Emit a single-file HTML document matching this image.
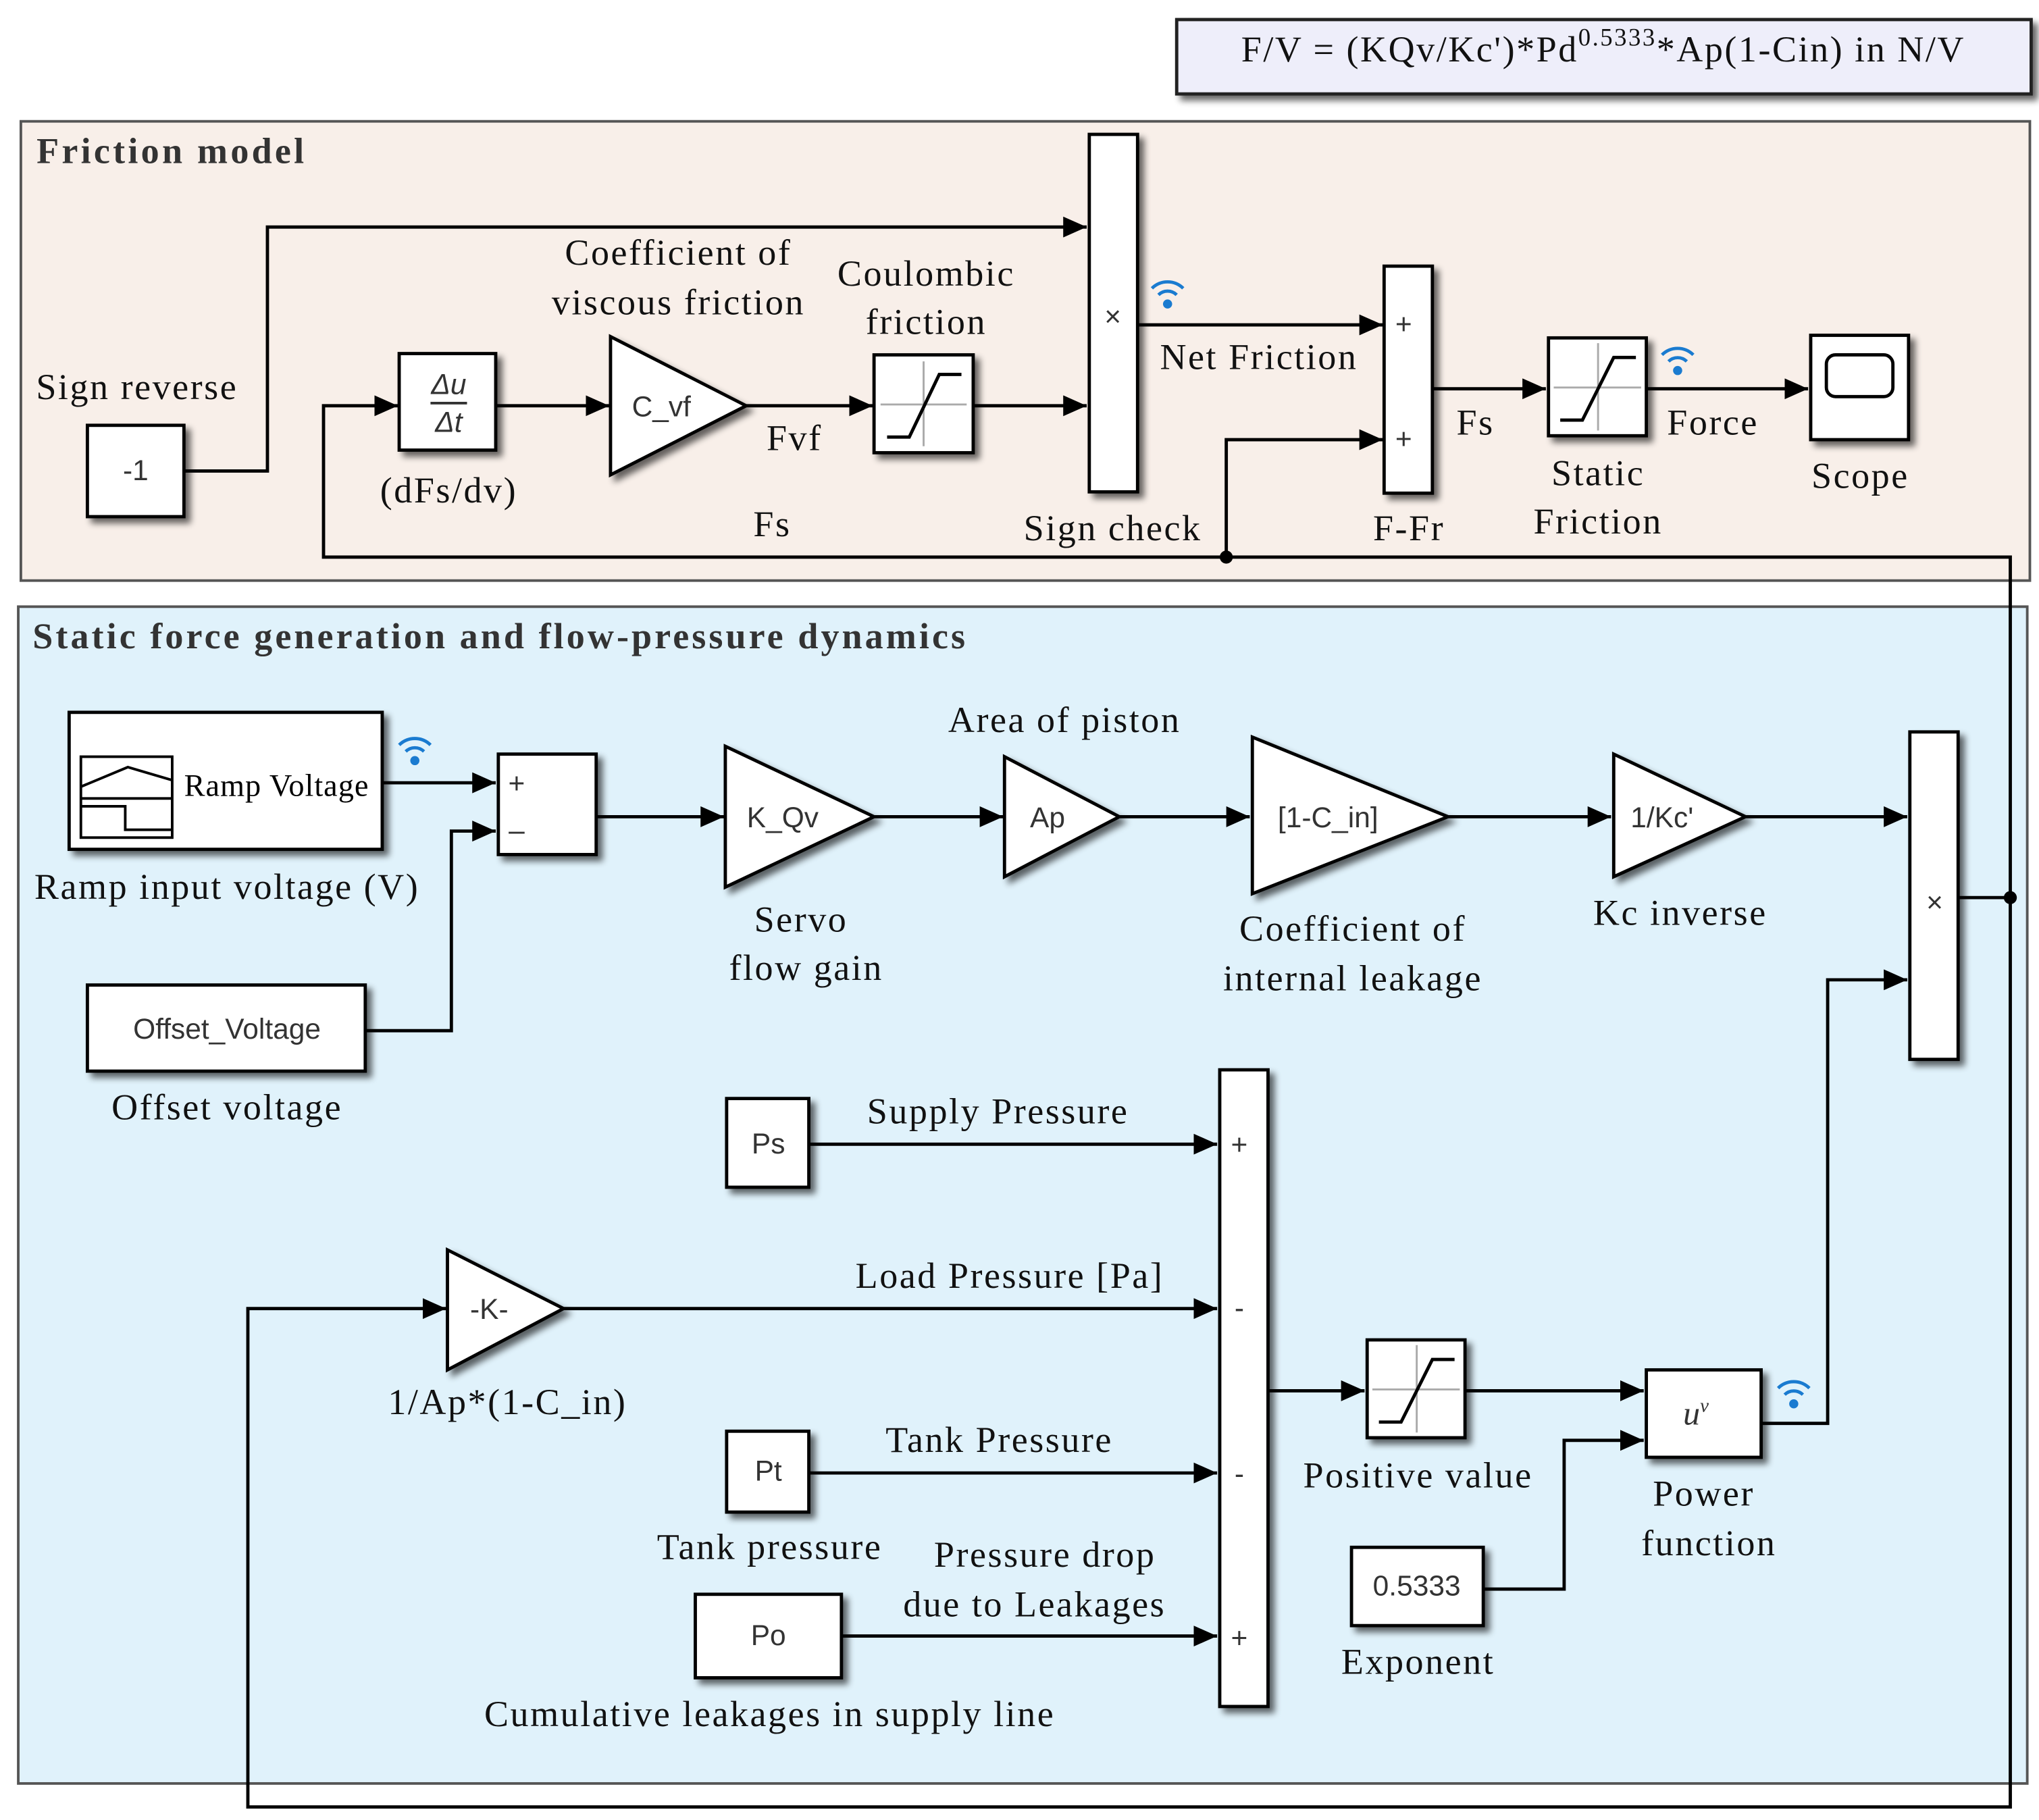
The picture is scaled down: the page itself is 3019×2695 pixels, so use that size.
<!DOCTYPE html>
<html><head><meta charset="utf-8"><style>
html,body{margin:0;padding:0;background:#fff}
svg{display:block}
.lb{font-family:"Liberation Serif",serif;font-size:28px;letter-spacing:1.3px;fill:#111;text-anchor:middle}
.bt{font-family:"Liberation Sans",sans-serif;font-size:22px;fill:#333;text-anchor:middle}
.blk{fill:#fff;stroke:#000;stroke-width:2.5}
.ln{fill:none;stroke:#000;stroke-width:2.5}
.wf{fill:none;stroke:#1a7bd0;stroke-width:2.5}
</style></head><body>
<svg width="3019" height="2695" viewBox="0 0 1563 1395" preserveAspectRatio="none" xmlns="http://www.w3.org/2000/svg">
<defs>
<marker id="a" markerUnits="userSpaceOnUse" markerWidth="20" markerHeight="20" refX="18" refY="8" orient="auto"><path d="M0,0 L18,8 L0,16 Z" fill="#000"/></marker>
<filter id="f" x="-20%" y="-20%" width="150%" height="150%"><feGaussianBlur in="SourceAlpha" stdDeviation="2.5"/><feOffset dx="4" dy="4"/><feComponentTransfer><feFuncA type="linear" slope="0.6"/></feComponentTransfer><feMerge><feMergeNode/><feMergeNode in="SourceGraphic"/></feMerge></filter>
<g id="wifi"><circle cx="0" cy="0" r="3.5" fill="#1a7bd0"/><path class="wf" d="M-7,-7 A10,10 0 0 1 7,-7"/><path class="wf" d="M-12,-12 A17,17 0 0 1 12,-12"/></g>
</defs>
<!-- title -->
<rect x="902" y="15" width="655" height="57" fill="#eeeefa" stroke="#222" stroke-width="2.5" filter="url(#f)"/>
<text x="1229" y="47" class="lb" font-size="28" letter-spacing="2">F/V = (KQv/Kc')*Pd<tspan font-size="19" dy="-12">0.5333</tspan><tspan dy="12">*Ap(1-Cin) in N/V</tspan></text>
<!-- areas -->
<rect x="16" y="93" width="1540" height="352" fill="#f8efe9" stroke="#555" stroke-width="2"/>
<text x="28" y="125" font-family="Liberation Serif,serif" font-weight="bold" font-size="28" letter-spacing="2.2" fill="#333">Friction model</text>
<rect x="14" y="465" width="1540" height="902" fill="#e0f2fb" stroke="#555" stroke-width="2"/>
<text x="25" y="497" font-family="Liberation Serif,serif" font-weight="bold" font-size="28" letter-spacing="2.1" fill="#333">Static force generation and flow-pressure dynamics</text>

<!-- Friction lines -->
<path class="ln" d="M141,361 H205 V174 H833" marker-end="url(#a)"/>
<path class="ln" d="M940,427 H248 V311 H305" marker-end="url(#a)"/>
<path class="ln" d="M940,427 H1541 V1385 H190 V1003 H342" marker-end="url(#a)"/>
<path class="ln" d="M380,311 H467" marker-end="url(#a)"/>
<path class="ln" d="M572,311 H669" marker-end="url(#a)"/>
<path class="ln" d="M746,311 H833" marker-end="url(#a)"/>
<path class="ln" d="M872,249 H1060" marker-end="url(#a)"/>
<path class="ln" d="M940,427 V337 H1060" marker-end="url(#a)"/>
<circle cx="940" cy="427" r="5" fill="#000"/>
<path class="ln" d="M1098,298 H1185" marker-end="url(#a)"/>
<path class="ln" d="M1262,298 H1386" marker-end="url(#a)"/>

<!-- Friction blocks -->
<rect class="blk" x="67" y="326" width="74" height="70" filter="url(#f)"/><text class="bt" x="104" y="368">-1</text>
<rect class="blk" x="306" y="271" width="74" height="74" filter="url(#f)"/>
<text class="bt" x="344" y="302" font-size="17" font-style="italic">Δu</text><line x1="330" y1="309" x2="358" y2="309" stroke="#333" stroke-width="2"/><text class="bt" x="344" y="331" font-size="17" font-style="italic">Δt</text>
<polygon class="blk" points="468,258 468,364 572,311" filter="url(#f)"/><text class="bt" x="507" y="319">C_vf</text>
<rect class="blk" x="670" y="272" width="76" height="75" filter="url(#f)"/>
<path d="M675,310 H741 M708,277 V342" stroke="#aaa" stroke-width="1.5"/><path class="ln" d="M680,335 H697 L720,287 H737"/>
<rect class="blk" x="835" y="103" width="37" height="274" filter="url(#f)"/><text class="bt" x="853" y="250" font-size="30" fill="#000">×</text>
<rect class="blk" x="1061" y="204" width="37" height="174" filter="url(#f)"/><text class="bt" x="1076" y="256" fill="#000">+</text><text class="bt" x="1076" y="344" fill="#000">+</text>
<rect class="blk" x="1187" y="259" width="75" height="75" filter="url(#f)"/>
<path d="M1191,297 H1258 M1225,263 V330" stroke="#aaa" stroke-width="1.5"/><path class="ln" d="M1196,322 H1213 L1237,274 H1254"/>
<rect class="blk" x="1388" y="257" width="75" height="80" filter="url(#f)"/><rect x="1400" y="272" width="51" height="32" rx="7" fill="none" stroke="#000" stroke-width="2.5"/>
<use href="#wifi" x="895" y="233"/><use href="#wifi" x="1286" y="284"/>

<!-- Friction labels -->
<text class="lb" x="105" y="306">Sign reverse</text>
<text class="lb" x="344" y="385">(dFs/dv)</text>
<text class="lb" x="520" y="203">Coefficient of</text><text class="lb" x="520" y="241">viscous friction</text>
<text class="lb" x="710" y="219">Coulombic</text><text class="lb" x="710" y="256">friction</text>
<text class="lb" x="609" y="345">Fvf</text><text class="lb" x="592" y="411">Fs</text>
<text class="lb" x="853" y="414">Sign check</text>
<text class="lb" x="965" y="283">Net Friction</text>
<text class="lb" x="1080" y="414">F-Fr</text><text class="lb" x="1131" y="333">Fs</text>
<text class="lb" x="1225" y="372">Static</text><text class="lb" x="1225" y="409">Friction</text>
<text class="lb" x="1313" y="333">Force</text><text class="lb" x="1426" y="374">Scope</text>

<!-- Bottom lines -->
<path class="ln" d="M293,600 H380" marker-end="url(#a)"/>
<path class="ln" d="M280,790 H346 V637 H380" marker-end="url(#a)"/>
<path class="ln" d="M457,626 H555" marker-end="url(#a)"/>
<path class="ln" d="M670,626 H769" marker-end="url(#a)"/>
<path class="ln" d="M858,626 H958" marker-end="url(#a)"/>
<path class="ln" d="M1110,626 H1235" marker-end="url(#a)"/>
<path class="ln" d="M1338,626 H1462" marker-end="url(#a)"/>
<path class="ln" d="M1501,688 H1541"/><circle cx="1541" cy="688" r="5" fill="#000"/>
<path class="ln" d="M1350,1091 H1401 V751 H1462" marker-end="url(#a)"/>
<path class="ln" d="M620,877 H933" marker-end="url(#a)"/>
<path class="ln" d="M432,1003 H933" marker-end="url(#a)"/>
<path class="ln" d="M620,1129 H933" marker-end="url(#a)"/>
<path class="ln" d="M645,1254 H933" marker-end="url(#a)"/>
<path class="ln" d="M972,1066 H1046" marker-end="url(#a)"/>
<path class="ln" d="M1123,1066 H1260" marker-end="url(#a)"/>
<path class="ln" d="M1137,1218 H1199 V1104 H1260" marker-end="url(#a)"/>

<!-- Bottom blocks -->
<rect class="blk" x="53" y="546" width="240" height="105" filter="url(#f)"/>
<rect x="62" y="580" width="70" height="62" fill="none" stroke="#000" stroke-width="2"/>
<path d="M62,603 L98,588 L132,598 M62,612 H132 M62,618 H96 V636 H132" fill="none" stroke="#000" stroke-width="2"/>
<text x="212" y="610" font-family="Liberation Serif,serif" font-size="24" letter-spacing="0.5" fill="#000" text-anchor="middle">Ramp Voltage</text>
<use href="#wifi" x="318" y="583"/>
<rect class="blk" x="382" y="578" width="75" height="77" filter="url(#f)"/><text class="bt" x="396" y="608" fill="#000">+</text><text class="bt" x="396" y="644" fill="#000">–</text>
<rect class="blk" x="67" y="755" width="213" height="66" filter="url(#f)"/><text class="bt" x="174" y="796">Offset_Voltage</text>
<polygon class="blk" points="556,572 556,680 670,626" filter="url(#f)"/><text class="bt" x="600" y="634">K_Qv</text>
<polygon class="blk" points="770,580 770,672 858,626" filter="url(#f)"/><text class="bt" x="803" y="634">Ap</text>
<polygon class="blk" points="960,565 960,685 1110,626" filter="url(#f)"/><text class="bt" x="1018" y="634">[1-C_in]</text>
<polygon class="blk" points="1237,578 1237,672 1338,626" filter="url(#f)"/><text class="bt" x="1274" y="634">1/Kc'</text>
<rect class="blk" x="1464" y="561" width="37" height="251" filter="url(#f)"/><text class="bt" x="1483" y="699" font-size="30" fill="#000">×</text>
<rect class="blk" x="557" y="842" width="63" height="68" filter="url(#f)"/><text class="bt" x="589" y="884">Ps</text>
<rect class="blk" x="935" y="820" width="37" height="488" filter="url(#f)"/>
<text class="bt" x="950" y="885" fill="#000">+</text><text class="bt" x="950" y="1010" fill="#000">-</text><text class="bt" x="950" y="1137" fill="#000">-</text><text class="bt" x="950" y="1263" fill="#000">+</text>
<polygon class="blk" points="343,958 343,1050 432,1003" filter="url(#f)"/><text class="bt" x="375" y="1011">-K-</text>
<rect class="blk" x="557" y="1097" width="63" height="62" filter="url(#f)"/><text class="bt" x="589" y="1135">Pt</text>
<rect class="blk" x="533" y="1222" width="112" height="64" filter="url(#f)"/><text class="bt" x="589" y="1261">Po</text>
<rect class="blk" x="1048" y="1027" width="75" height="75" filter="url(#f)"/>
<path d="M1052,1065 H1119 M1086,1031 V1098" stroke="#aaa" stroke-width="1.5"/><path class="ln" d="M1057,1090 H1074 L1098,1042 H1115"/>
<rect class="blk" x="1262" y="1050" width="88" height="67" filter="url(#f)"/>
<text x="1300" y="1092" font-family="Liberation Serif,serif" font-style="italic" font-size="26" fill="#333" text-anchor="middle">u<tspan font-size="15" dy="-10">v</tspan></text>
<use href="#wifi" x="1375" y="1076"/>
<rect class="blk" x="1036" y="1186" width="101" height="60" filter="url(#f)"/><text class="bt" x="1086" y="1223">0.5333</text>

<!-- Bottom labels -->
<text class="lb" x="174" y="689">Ramp input voltage (V)</text>
<text class="lb" x="174" y="858">Offset voltage</text>
<text class="lb" x="614" y="714">Servo</text><text class="lb" x="618" y="751">flow gain</text>
<text class="lb" x="816" y="561">Area of piston</text>
<text class="lb" x="1037" y="721">Coefficient of</text><text class="lb" x="1037" y="759">internal leakage</text>
<text class="lb" x="1288" y="709">Kc inverse</text>
<text class="lb" x="765" y="861">Supply Pressure</text>
<text class="lb" x="774" y="987">Load Pressure [Pa]</text>
<text class="lb" x="389" y="1084">1/Ap*(1-C_in)</text>
<text class="lb" x="766" y="1113">Tank Pressure</text>
<text class="lb" x="590" y="1195">Tank pressure</text>
<text class="lb" x="801" y="1201">Pressure drop</text><text class="lb" x="793" y="1239">due to Leakages</text>
<text class="lb" x="590" y="1323">Cumulative leakages in supply line</text>
<text class="lb" x="1087" y="1140">Positive value</text>
<text class="lb" x="1306" y="1154">Power</text><text class="lb" x="1310" y="1192">function</text>
<text class="lb" x="1087" y="1283">Exponent</text>
</svg>
</body></html>
